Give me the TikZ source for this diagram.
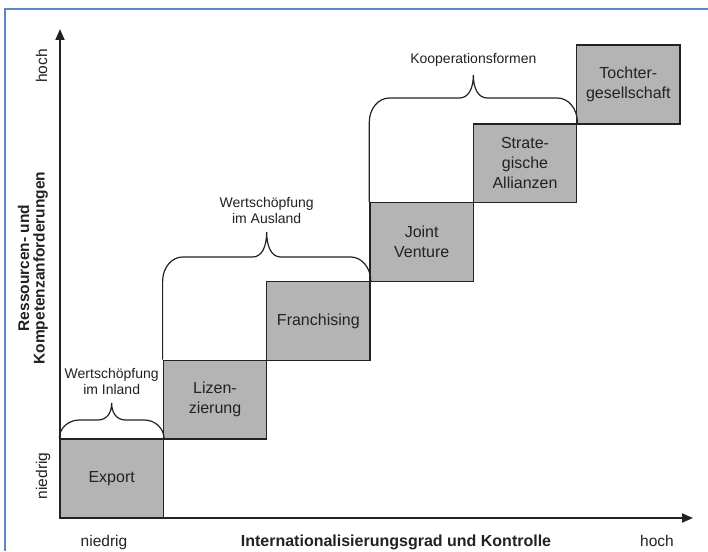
\documentclass[tikz,border=0pt]{standalone}
\usepackage{fontspec}
\setmainfont{Liberation Sans}
\usetikzlibrary{arrows.meta,calc}
\definecolor{boxgray}{HTML}{B4B4B4}
\definecolor{ink}{HTML}{222222}
\definecolor{framblue}{HTML}{5B87C5}
\tikzset{
  stepbox/.style={draw=ink, fill=boxgray, line width=1.4pt, minimum width=103.33pt,
    minimum height=78.83pt, inner sep=0pt, align=center, text=ink,
    font=\fontsize{16}{20}\selectfont},
  axisline/.style={draw=ink, line width=1.8pt, -{Triangle[length=11pt,width=9pt]}},
  bracestyle/.style={draw=ink, line width=1.2pt},
  bracelabel/.style={anchor=south, inner sep=0pt, yshift=8pt, align=center, text=ink,
    font=\fontsize{14}{16}\selectfont},
  endlabel/.style={text=ink, inner sep=0pt, font=\fontsize{15.5}{18}\selectfont},
  axistitle/.style={text=ink, inner sep=0pt, align=center, font=\bfseries\fontsize{16}{16}\selectfont}
}
\newcommand{\drawbrace}[6]{%
  \draw[bracestyle] let \p1=(#1), \p2=(#2),
      \n1={min(#3-\y1/1pt,24)}, \n2={min(#3-\y2/1pt,24)}, \n3={(\x1+\x2)/2/1pt}
    in (#1) -- (\x1,#3-\n1) .. controls (\x1,#3-0.45*\n1) and (\x1+9,#3) .. (\x1+20,#3)
    -- (\n3-14,#3) .. controls (\n3-5,#3) and (\n3,{#3+0.4*(#4-#3)}) .. (\n3,#4)
    node[bracelabel] (#6) {#5}
    .. controls (\n3,{#3+0.4*(#4-#3)}) and (\n3+5,#3) .. (\n3+14,#3)
    -- (\x2-20,#3) .. controls (\x2-9,#3) and (\x2,#3-0.45*\n2) .. (\x2,#3-\n2) -- (#2);
}
\begin{document}
\begin{tikzpicture}[x=1pt,y=1pt]
\fill[white] (0,0) rectangle (708,551);
\useasboundingbox (0,0) rectangle (708,551);
% frame
\draw[framblue, line width=2pt] (5,0) -- (5,542) -- (708,542);
% axes
\coordinate (o) at (60,33);
\coordinate (ytip) at (60,522);
\coordinate (xtip) at (693,33);
\draw[axisline] (o) -- (ytip);
\draw[axisline] (o) -- (xtip);
% boxes
\node[stepbox] (exp) at (111.67,72.42) {Export};
\node[stepbox] (liz) at (215.00,151.25) {Lizen-\\zierung};
\node[stepbox] (fra) at (318.33,230.08) {Franchising};
\node[stepbox] (jv)  at (421.67,308.92) {Joint\\Venture};
\node[stepbox] (sa)  at (525.00,387.75) {Strate-\\gische\\Allianzen};
\node[stepbox] (tg)  at (628.33,466.58) {Tochter-\\gesellschaft};
% braces
\drawbrace{exp.north west}{exp.north east}{131}{148}{Wertschöpfung\\im Inland}{lin}
\drawbrace{liz.north west}{fra.north east}{294}{319}{Wertschöpfung\\im Ausland}{lau}
\drawbrace{jv.north west}{sa.north east}{453}{476}{Kooperationsformen}{lko}
% axis labels
\node[endlabel, anchor=base] (xlo) at (104,5) {niedrig};
\node[endlabel, anchor=base] (xhi) at (657,5) {hoch};
\node[axistitle, anchor=base] (xt) at (396,5) {Internationalisierungsgrad und Kontrolle};
\node[endlabel, anchor=base, rotate=90] (ylo) at (47,75) {niedrig};
\node[endlabel, anchor=base, rotate=90] (yhi) at (47,485) {hoch};
\node[axistitle, rotate=90, font=\bfseries\fontsize{15.5}{15.5}\selectfont] (yt) at (33,283) {Ressourcen- und\\Kompetenzanforderungen};
\end{tikzpicture}
\end{document}
